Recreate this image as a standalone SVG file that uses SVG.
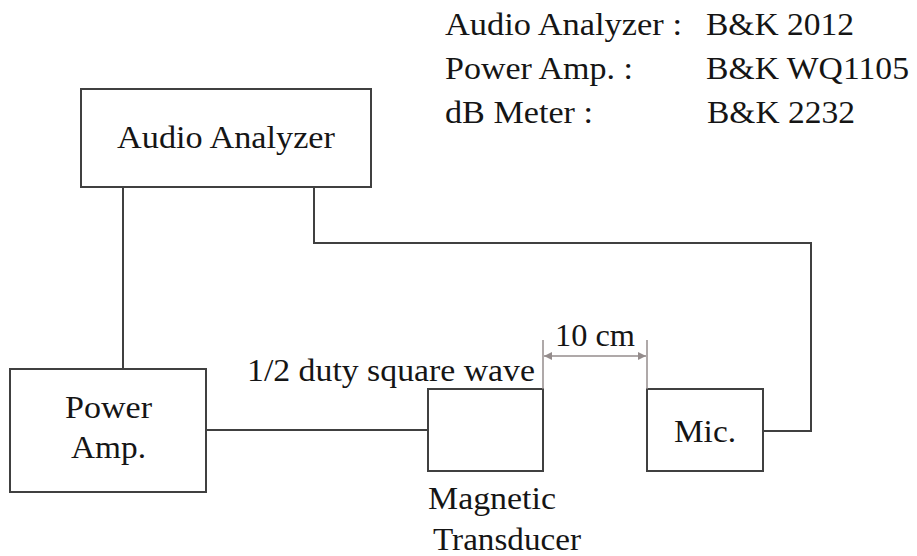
<svg xmlns="http://www.w3.org/2000/svg" width="917" height="556" viewBox="0 0 917 556">
  <style>
    .box { fill: #ffffff; stroke: #404040; stroke-width: 2; }
    .wire { fill: none; stroke: #404040; stroke-width: 2; }
    .dim { fill: none; stroke: #948c8c; stroke-width: 1.5; }
    text { font-family: 'Liberation Serif', 'Times New Roman', serif; font-size: 31px; fill: #151515; }
  </style>
  <defs>
    <marker id="ah" viewBox="0 0 10 10" refX="10" refY="5" markerWidth="8" markerHeight="8" markerUnits="userSpaceOnUse" orient="auto-start-reverse">
      <path d="M0,0 L10,5 L0,10 z" fill="#948c8c"/>
    </marker>
  </defs>
  <rect width="917" height="556" fill="#ffffff"/>

  <g id="legend">
    <text x="445" y="35" textLength="237" lengthAdjust="spacingAndGlyphs">Audio Analyzer :</text>
    <text x="706" y="35" textLength="148" lengthAdjust="spacingAndGlyphs">B&amp;K 2012</text>
    <text x="445" y="79" textLength="188" lengthAdjust="spacingAndGlyphs">Power Amp. :</text>
    <text x="706" y="79" textLength="203" lengthAdjust="spacingAndGlyphs">B&amp;K WQ1105</text>
    <text x="445" y="123" textLength="148" lengthAdjust="spacingAndGlyphs">dB Meter :</text>
    <text x="707" y="123" textLength="148" lengthAdjust="spacingAndGlyphs">B&amp;K 2232</text>
  </g>

  <g id="connectors">
    <polyline class="wire" points="123,187 123,369"/>
    <polyline class="wire" points="314,187 314,243 811,243 811,431 763,431"/>
    <polyline class="wire" points="206,430 428,430"/>
  </g>

  <g id="audio-analyzer">
    <rect class="box" x="81" y="89" width="290" height="98"/>
    <text x="117" y="148" textLength="218" lengthAdjust="spacingAndGlyphs">Audio Analyzer</text>
  </g>

  <g id="power-amp">
    <rect class="box" x="10" y="369" width="196" height="123"/>
    <text x="65" y="418" textLength="87" lengthAdjust="spacingAndGlyphs">Power</text>
    <text x="71" y="458" textLength="75" lengthAdjust="spacingAndGlyphs">Amp.</text>
  </g>

  <g id="transducer">
    <rect class="box" x="428" y="389" width="115" height="82"/>
    <text x="428" y="509" textLength="128" lengthAdjust="spacingAndGlyphs">Magnetic</text>
    <text x="433" y="550" textLength="148" lengthAdjust="spacingAndGlyphs">Transducer</text>
  </g>

  <g id="mic">
    <rect class="box" x="647" y="389" width="116" height="82"/>
    <text x="674" y="442" textLength="62" lengthAdjust="spacingAndGlyphs">Mic.</text>
  </g>

  <g id="signal-label">
    <text x="247" y="381" textLength="288" lengthAdjust="spacingAndGlyphs">1/2 duty square wave</text>
  </g>

  <g id="dimension">
    <line class="dim" x1="543" y1="340" x2="543" y2="389"/>
    <line class="dim" x1="647" y1="340" x2="647" y2="389"/>
    <line class="dim" x1="544" y1="356" x2="646" y2="356" marker-start="url(#ah)" marker-end="url(#ah)"/>
    <text x="555" y="346" textLength="80" lengthAdjust="spacingAndGlyphs">10 cm</text>
  </g>
</svg>
